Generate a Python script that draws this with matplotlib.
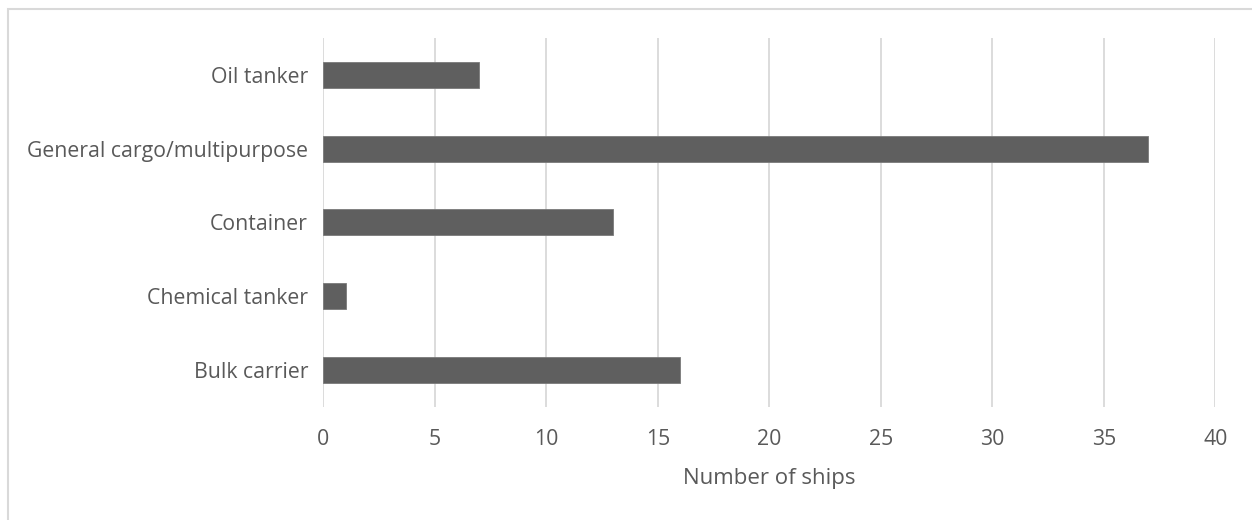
import matplotlib
matplotlib.use('Agg')
import matplotlib.pyplot as plt
from matplotlib.patches import Rectangle

# ship types, listed bottom to top as they appear on the axis
ship_types = ['Bulk carrier', 'Chemical tanker', 'Container',
              'General cargo/multipurpose', 'Oil tanker']
ship_counts = [16, 1, 13, 37, 7]
x_ticks = [0, 5, 10, 15, 20, 25, 30, 35, 40]

TEXT_COLOR = '#595959'
GRID_COLOR = '#d9d9d9'
BAR_COLOR = '#5f5f5f'

plt.rcParams['font.family'] = ['Open Sans', 'DejaVu Sans']

fig = plt.figure(figsize=(12.52, 5.2), dpi=100)
ax = fig.add_axes([323.3/1252, 1 - 406.5/520, (1215.3 - 323.3)/1252, (406.5 - 38.2)/520])

# chart area frame (only top and left edge fall inside the image)
frame = Rectangle((7.5/1252, -0.5), 2.0, 1.5 - 8.5/520, transform=fig.transFigure,
                  fill=False, edgecolor=GRID_COLOR, linewidth=1.5)
fig.patches.append(frame)

pos = list(range(len(ship_types)))
ax.barh(pos, ship_counts, height=0.35, color=BAR_COLOR, edgecolor='#7a7a7a',
        linewidth=0.6, zorder=3)

for t in x_ticks:
    ax.axvline(t, color=GRID_COLOR, linewidth=1.3, zorder=1)

ax.set_xlim(0, 40)
ax.set_ylim(-0.5, len(ship_types) - 0.5)
ax.set_xticks(x_ticks)
ax.set_yticks(pos)
ax.set_yticklabels(ship_types)
ax.tick_params(axis='both', length=0, labelsize=15.3, labelcolor=TEXT_COLOR)
ax.tick_params(axis='y', pad=11)
ax.tick_params(axis='x', pad=16)
for s in ax.spines.values():
    s.set_visible(False)

ax.set_xlabel('Number of ships', fontsize=16, color=TEXT_COLOR, labelpad=13)

fig.savefig('out.png', dpi=100)
